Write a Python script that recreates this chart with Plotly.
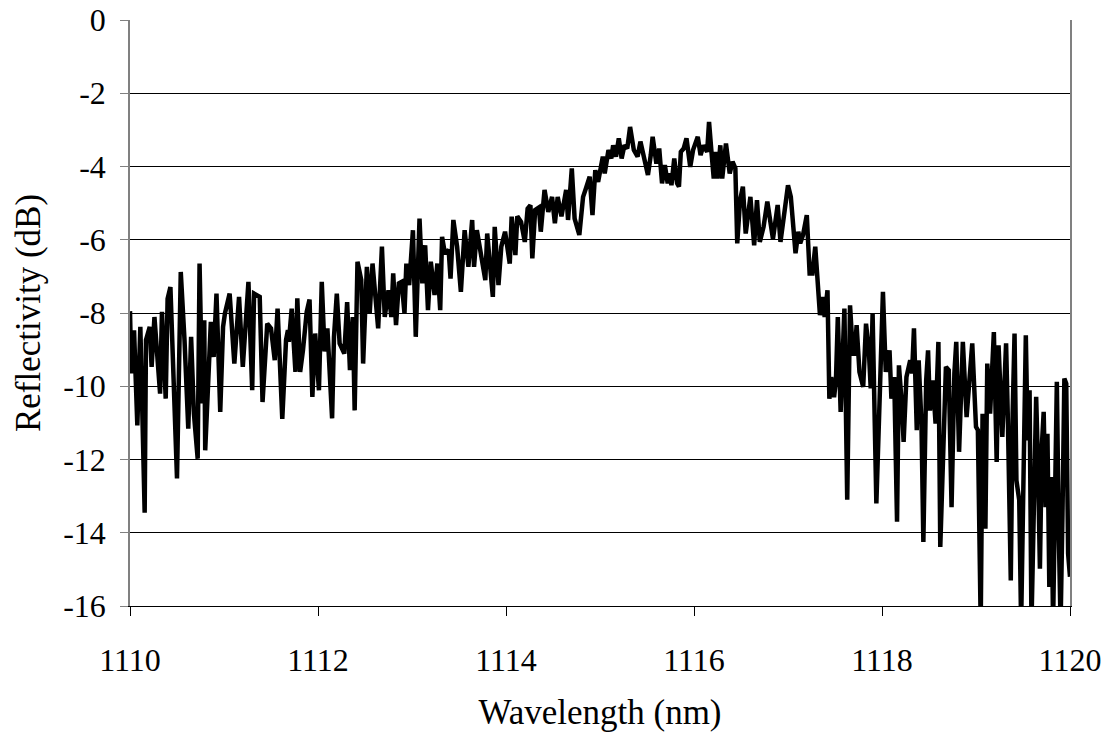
import plotly.graph_objects as go

wavelength_nm = [
    1110.00, 1110.014, 1110.043, 1110.078, 1110.11, 1110.156, 1110.17, 1110.21, 1110.23, 1110.26,
    1110.32, 1110.34, 1110.38, 1110.40, 1110.43, 1110.50, 1110.54, 1110.58, 1110.62, 1110.65,
    1110.68, 1110.72, 1110.74, 1110.77, 1110.79, 1110.80, 1110.86, 1110.89, 1110.92, 1110.96,
    1110.99, 1111.01, 1111.06, 1111.11, 1111.16, 1111.20, 1111.26, 1111.30, 1111.32, 1111.38,
    1111.41, 1111.46, 1111.50, 1111.54, 1111.57, 1111.62, 1111.66, 1111.68,
    1111.69, 1111.72, 1111.76, 1111.78, 1111.81, 1111.84, 1111.88, 1111.91, 1111.94, 1111.97,
    1112.01, 1112.04, 1112.07, 1112.10, 1112.15, 1112.17, 1112.20, 1112.23, 1112.28, 1112.31,
    1112.34, 1112.37, 1112.39, 1112.42, 1112.46, 1112.48, 1112.52, 1112.55, 1112.58, 1112.61,
    1112.64, 1112.68, 1112.71, 1112.75, 1112.78, 1112.80, 1112.83, 1112.86, 1112.89, 1112.92,
    1112.94, 1112.97, 1113.01, 1113.04, 1113.08, 1113.11, 1113.14, 1113.17, 1113.20, 1113.24,
    1113.27, 1113.30, 1113.32,
    1113.35, 1113.39, 1113.41, 1113.44, 1113.48, 1113.52, 1113.56, 1113.60, 1113.64, 1113.66,
    1113.69, 1113.73, 1113.78, 1113.80, 1113.83, 1113.86, 1113.88, 1113.92, 1113.95, 1113.99,
    1114.04, 1114.06, 1114.10, 1114.12, 1114.16, 1114.20, 1114.23, 1114.26, 1114.28, 1114.31,
    1114.35, 1114.37, 1114.41, 1114.45, 1114.49, 1114.52, 1114.55, 1114.59, 1114.64, 1114.66,
    1114.70, 1114.73, 1114.78, 1114.82, 1114.85, 1114.89, 1114.92, 1114.95, 1114.98,
    1115.00, 1115.03, 1115.05, 1115.09, 1115.12, 1115.14, 1115.17, 1115.20, 1115.23, 1115.26,
    1115.29, 1115.32, 1115.36, 1115.40, 1115.43, 1115.47, 1115.51, 1115.54, 1115.56, 1115.60,
    1115.63, 1115.66, 1115.69, 1115.72, 1115.74, 1115.76, 1115.79, 1115.82, 1115.84, 1115.86,
    1115.89, 1115.92, 1115.96, 1115.99, 1116.04, 1116.07, 1116.10, 1116.14, 1116.16, 1116.19,
    1116.21, 1116.23, 1116.25, 1116.28, 1116.30, 1116.34, 1116.37, 1116.38, 1116.41, 1116.44,
    1116.46, 1116.49, 1116.52, 1116.55, 1116.60,
    1116.64, 1116.67, 1116.70, 1116.74, 1116.78, 1116.84, 1116.89, 1116.92, 1116.96, 1117.00,
    1117.03, 1117.05, 1117.08, 1117.11, 1117.13, 1117.16, 1117.20, 1117.23, 1117.26, 1117.29,
    1117.32, 1117.34, 1117.37, 1117.39, 1117.42, 1117.44, 1117.46, 1117.49, 1117.51, 1117.53,
    1117.56, 1117.60, 1117.63, 1117.66, 1117.69, 1117.71, 1117.73, 1117.76, 1117.80, 1117.83,
    1117.86, 1117.88, 1117.90, 1117.94, 1117.98, 1118.01, 1118.04, 1118.08, 1118.10, 1118.13,
    1118.16, 1118.18, 1118.21, 1118.23, 1118.26,
    1118.30, 1118.32, 1118.34, 1118.37, 1118.39, 1118.42, 1118.44, 1118.47, 1118.49, 1118.51,
    1118.54, 1118.57, 1118.60, 1118.62, 1118.65, 1118.68, 1118.71, 1118.74, 1118.77, 1118.79,
    1118.82, 1118.84, 1118.86, 1118.90, 1118.93, 1118.96, 1119.00, 1119.02, 1119.05, 1119.07,
    1119.10, 1119.12, 1119.15, 1119.19, 1119.22, 1119.24, 1119.28, 1119.32, 1119.34, 1119.37,
    1119.39, 1119.41, 1119.43, 1119.46, 1119.48, 1119.51, 1119.53, 1119.55, 1119.57, 1119.59,
    1119.62, 1119.64, 1119.66, 1119.68, 1119.70, 1119.72, 1119.74, 1119.76, 1119.78, 1119.80,
    1119.82, 1119.84, 1119.86, 1119.88, 1119.90, 1119.92, 1119.94, 1119.96, 1119.98, 1120.00,
]

reflectivity_db = [
    -7.95, -9.65, -8.47, -11.07, -8.38, -13.45, -8.74, -8.38, -9.47, -8.11,
    -10.2, -7.97, -10.34, -7.61, -7.29, -12.52, -6.88, -8.74, -11.16, -8.65,
    -10.75, -11.98, -6.65, -10.47, -8.2, -11.75, -8.24, -9.2, -7.47, -10.7,
    -8.38, -8.01, -7.47, -9.38, -7.56, -9.47, -7.15, -10.11, -7.47, -7.56,
    -10.43, -8.29, -8.42, -9.29, -7.88, -10.89, -8.74, -8.47,
    -8.79, -7.88, -9.61, -7.6, -9.61, -9.02, -7.97, -7.63, -10.29, -8.56,
    -10.11, -7.15, -9.05, -8.42, -10.88, -8.65, -7.47, -8.83, -9.11, -7.7,
    -9.56, -8.11, -10.66, -6.6, -7.1, -9.38, -6.74, -8.01, -6.65, -7.74,
    -8.42, -6.19, -8.11, -7.38, -8.11, -6.92, -8.33, -7.19, -7.15, -8.01,
    -6.65, -7.24, -5.74, -8.65, -5.42, -7.19, -6.15, -7.92, -6.6, -7.51,
    -6.65, -7.92, -5.92,
    -6.37, -6.28, -7.06, -5.46, -6.19, -7.42, -5.74, -6.74, -5.46, -6.74,
    -5.74, -6.28, -7.1, -5.83, -6.65, -7.56, -5.65, -7.24, -6.19, -5.78,
    -6.65, -5.37, -6.42, -5.36, -5.51, -6.06, -5.15, -5.06, -6.51, -5.19,
    -5.12, -5.78, -4.64, -5.24, -4.83, -5.55, -4.83, -5.36, -4.64, -5.46,
    -4.05, -5.42, -5.87, -4.83, -4.6, -4.28, -5.33, -4.1, -4.42,
    -4.19, -3.73, -4.19, -3.55, -3.78, -3.42, -3.73, -3.23, -3.78, -3.42,
    -3.51, -2.92, -3.55, -3.73, -3.32, -3.73, -4.23, -3.69, -3.19, -3.92,
    -3.51, -4.46, -3.96, -4.46, -4.19, -4.51, -3.78, -4.46, -4.55, -3.6,
    -3.51, -3.23, -4.01, -3.55, -3.19, -3.69, -3.42, -3.6, -2.78, -3.73,
    -4.33, -3.6, -4.33, -3.42, -4.33, -3.37, -3.92, -4.19, -3.87, -4.05,
    -6.1, -4.92, -4.55, -5.83, -4.83,
    -6.15, -4.92, -6.06, -5.65, -4.96, -5.98, -5.05, -6.06, -5.28, -4.51,
    -4.83, -5.51, -6.37, -5.78, -6.1, -5.87, -5.33, -6.92, -6.92, -6.19,
    -7.47, -8.06, -7.56, -8.11, -7.38, -10.34, -9.75, -10.3, -9.84, -8.11,
    -10.7, -7.88, -13.1, -7.79, -9.11, -9.11, -8.33, -9.61, -10.02, -8.29,
    -9.02, -10.06, -8.02, -13.2, -9.93, -7.42, -9.61, -9.02, -10.34, -9.75,
    -13.7, -9.43, -10.47, -11.52, -9.75,
    -9.29, -9.65, -8.42, -11.2, -9.29, -11.02, -14.25, -9.84, -9.02, -10.66,
    -9.84, -11.02, -8.79, -14.39, -12.02, -9.47, -9.56, -13.3, -9.65, -8.79,
    -11.79, -10.11, -8.79, -10.84, -9.74, -8.83, -11.11, -11.2, -16.5, -10.75,
    -13.89, -9.38, -10.75, -8.52, -12.07, -8.88, -11.38, -8.83, -11.02, -15.3,
    -10.75, -8.56, -12.57, -13.11, -16.5, -11.02, -8.61, -11.48, -10.11, -16.5,
    -12.2, -10.29, -12.2, -14.98, -11.66, -10.7, -13.3, -11.3, -15.48, -12.48,
    -16.5, -12.12, -9.88, -13.93, -16.5, -13.48, -9.79, -9.93, -14.57, -15.2,
]

x_ticks = [1110, 1112, 1114, 1116, 1118, 1120]
y_ticks = [0, -2, -4, -6, -8, -10, -12, -14, -16]

FONT = "Liberation Serif, Times New Roman, serif"

fig = go.Figure()
fig.add_trace(go.Scatter(
    x=wavelength_nm, y=reflectivity_db, mode="lines",
    line=dict(color="black", width=4.5), showlegend=False,
))
# invisible trace so that a right-hand border axis is drawn
fig.add_trace(go.Scatter(x=[wavelength_nm[0]], y=[reflectivity_db[0]], yaxis="y2",
                         mode="lines", line=dict(width=0), showlegend=False, hoverinfo="skip"))

fig.update_layout(
    width=1110, height=732,
    margin=dict(l=130, r=40, t=20, b=126),
    paper_bgcolor="white", plot_bgcolor="white",
    font=dict(family=FONT, size=32, color="black"),
    xaxis=dict(
        range=[1110, 1120], tickvals=x_ticks, ticktext=[str(v) for v in x_ticks],
        showgrid=False, zeroline=False, automargin=False, ticklabeloverflow="allow",
        showline=True, linecolor="black", linewidth=1,
        ticks="outside", ticklen=9, tickcolor="black", tickwidth=1,
        ticklabelstandoff=17,
        title=dict(text="Wavelength (nm)", standoff=38, font=dict(size=35)),
    ),
    yaxis=dict(
        range=[-16, 0], tickvals=y_ticks, ticktext=[str(v) for v in y_ticks],
        showgrid=True, gridcolor="black", gridwidth=1, zeroline=False, automargin=False,
        ticklabeloverflow="allow",
        showline=True, linecolor="#808080", linewidth=1.5,
        ticks="outside", ticklen=8, tickcolor="#808080", tickwidth=1,
        ticklabelstandoff=8,
        title=dict(text="Reflectivity (dB)", standoff=12, font=dict(size=35)),
    ),
    yaxis2=dict(
        overlaying="y", side="right", range=[-16, 0], automargin=False,
        showline=True, linecolor="#808080", linewidth=1.5,
        showticklabels=False, showgrid=False, zeroline=False, ticks="",
    ),
)

# remove the page's default body margin so the figure fills the window exactly
fig.write_html("out.html", config={"displayModeBar": False},
               post_script="document.body.style.margin='0';")
